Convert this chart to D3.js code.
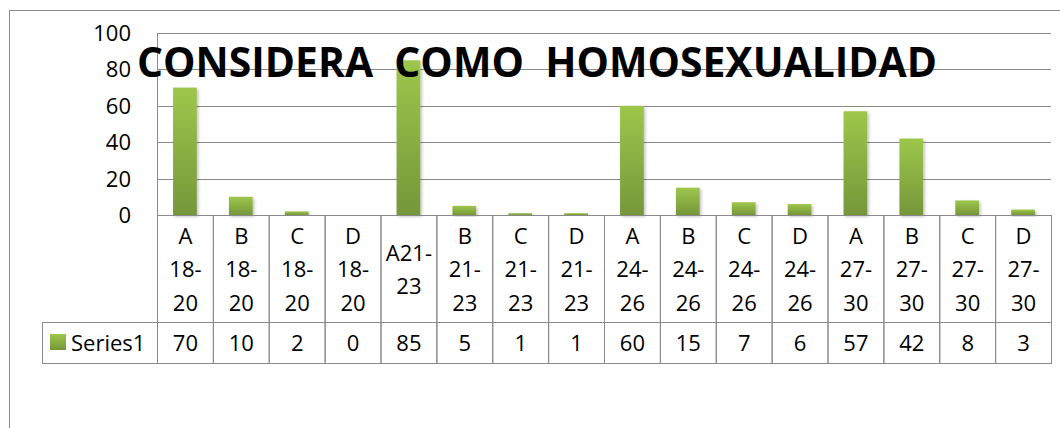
<!DOCTYPE html>
<html>
<head>
<meta charset="utf-8">
<script src="https://cdn.jsdelivr.net/npm/d3@7"></script>
<style>
  body { margin: 0; background: #fff; }
  svg { display: block; font-family: "Open Sans", Lato, sans-serif; }
</style>
</head>
<body>
<div id="chart"></div>
<script>
// chart data
const categories = ["A 18-20", "B 18-20", "C 18-20", "D 18-20", "A21-23", "B 21-23", "C 21-23", "D 21-23",
  "A 24-26", "B 24-26", "C 24-26", "D 24-26", "A 27-30", "B 27-30", "C 27-30", "D 27-30"];
const categoryLines = [["A", "18-", "20"], ["B", "18-", "20"], ["C", "18-", "20"], ["D", "18-", "20"],
  ["A21-", "23"], ["B", "21-", "23"], ["C", "21-", "23"], ["D", "21-", "23"],
  ["A", "24-", "26"], ["B", "24-", "26"], ["C", "24-", "26"], ["D", "24-", "26"],
  ["A", "27-", "30"], ["B", "27-", "30"], ["C", "27-", "30"], ["D", "27-", "30"]];
const series1 = [70, 10, 2, 0, 85, 5, 1, 1, 60, 15, 7, 6, 57, 42, 8, 3];
const yTicks = [0, 20, 40, 60, 80, 100];
const seriesName = "Series1";
const title = "CONSIDERA  COMO  HOMOSEXUALIDAD";

const width = 1060, height = 428;
const plot = { left: 157, right: 1051, top: 33, bottom: 215 };
const headBottom = 322, valueBottom = 363, legendLeft = 42;
const lineColor = "#8a8a8a";
const fontSize = 22;

const svg = d3.select("#chart")
  .append("svg")
  .attr("width", width)
  .attr("height", height);

// bar gradient + soft shadow
const defs = svg.append("defs");
const grad = defs.append("linearGradient")
  .attr("id", "barGrad")
  .attr("x1", 0).attr("y1", 0).attr("x2", 0).attr("y2", 1);
grad.append("stop").attr("offset", "0%").attr("stop-color", "#9dc74b");
grad.append("stop").attr("offset", "100%").attr("stop-color", "#76963a");

const shadow = defs.append("filter").attr("id", "shadow")
  .attr("x", "-30%").attr("y", "-10%").attr("width", "160%").attr("height", "130%");
shadow.append("feDropShadow")
  .attr("dx", 1.5).attr("dy", 1.5).attr("stdDeviation", 1.5)
  .attr("flood-color", "#000").attr("flood-opacity", 0.25);

// outer chart border (right/bottom sides fall outside the picture)
svg.append("rect")
  .attr("x", 9.5).attr("y", 10.5)
  .attr("width", 1100).attr("height", 500)
  .attr("fill", "none")
  .attr("stroke", lineColor);

const x = d3.scaleBand()
  .domain(categories)
  .range([plot.left, plot.right])
  .paddingInner(0.575)
  .paddingOuter(0.2875);

const col = d3.scaleBand()
  .domain(categories)
  .range([plot.left, plot.right]);

const y = d3.scaleLinear()
  .domain([0, 100])
  .range([plot.bottom, plot.top]);

// gridlines
svg.append("g")
  .selectAll("line")
  .data(yTicks)
  .enter()
  .append("line")
  .attr("x1", plot.left).attr("x2", plot.right)
  .attr("y1", d => Math.round(y(d)) + 0.5)
  .attr("y2", d => Math.round(y(d)) + 0.5)
  .attr("stroke", lineColor);

// y axis line
svg.append("line")
  .attr("x1", plot.left + 0.5).attr("x2", plot.left + 0.5)
  .attr("y1", plot.top).attr("y2", plot.bottom)
  .attr("stroke", lineColor);

// y tick labels
svg.append("g")
  .selectAll("text")
  .data(yTicks)
  .enter()
  .append("text")
  .attr("x", 131)
  .attr("y", d => y(d))
  .attr("dy", "0.36em")
  .attr("text-anchor", "end")
  .attr("font-size", fontSize)
  .attr("fill", "#000")
  .text(d => d);

// bars
svg.append("g")
  .selectAll("rect")
  .data(series1)
  .enter()
  .append("rect")
  .attr("x", (d, i) => x(categories[i]))
  .attr("y", d => y(d))
  .attr("width", x.bandwidth())
  .attr("height", d => plot.bottom - y(d))
  .attr("fill", "url(#barGrad)")
  .attr("filter", "url(#shadow)");

// data table
const table = svg.append("g").attr("stroke", lineColor).attr("fill", "none");
table.selectAll(".hcell")
  .data(categories)
  .enter()
  .append("rect")
  .attr("x", d => col(d) + 0.5)
  .attr("y", plot.bottom + 0.5)
  .attr("width", col.bandwidth())
  .attr("height", headBottom - plot.bottom);
table.selectAll(".vcell")
  .data(categories)
  .enter()
  .append("rect")
  .attr("x", d => col(d) + 0.5)
  .attr("y", headBottom + 0.5)
  .attr("width", col.bandwidth())
  .attr("height", valueBottom - headBottom);
table.append("rect")
  .attr("x", legendLeft + 0.5)
  .attr("y", headBottom + 0.5)
  .attr("width", plot.left - legendLeft)
  .attr("height", valueBottom - headBottom);

// header labels
const headMid = (plot.bottom + headBottom) / 2 + 1;
const lineH = 33.5;
const heads = svg.append("g")
  .selectAll("text")
  .data(categories)
  .enter()
  .append("text")
  .attr("text-anchor", "middle")
  .attr("font-size", fontSize)
  .attr("fill", "#000");
heads.each(function (d, i) {
  const lines = categoryLines[i];
  const t = d3.select(this);
  lines.forEach((ln, k) => {
    t.append("tspan")
      .attr("x", col(d) + col.bandwidth() / 2 + 0.5)
      .attr("y", headMid + (k - (lines.length - 1) / 2) * lineH)
      .attr("dy", "0.36em")
      .text(ln);
  });
});

// value row
svg.append("g")
  .selectAll("text")
  .data(series1)
  .enter()
  .append("text")
  .attr("x", (d, i) => col(categories[i]) + col.bandwidth() / 2 + 0.5)
  .attr("y", (headBottom + valueBottom) / 2 + 1)
  .attr("dy", "0.36em")
  .attr("text-anchor", "middle")
  .attr("font-size", fontSize)
  .attr("fill", "#000")
  .text(d => d);

// legend key
svg.append("rect")
  .attr("x", 50).attr("y", 334)
  .attr("width", 16).attr("height", 16)
  .attr("fill", "url(#barGrad)");
svg.append("text")
  .attr("x", 71)
  .attr("y", (headBottom + valueBottom) / 2 + 1)
  .attr("dy", "0.36em")
  .attr("font-size", fontSize)
  .attr("fill", "#000")
  .text(seriesName);

// title
svg.append("text")
  .attr("x", 137)
  .attr("y", 77)
  .attr("font-size", 41)
  .attr("font-weight", "bold")
  .attr("fill", "#000")
  .attr("textLength", 800)
  .attr("lengthAdjust", "spacingAndGlyphs")
  .style("white-space", "pre")
  .text(title);
</script>
</body>
</html>
